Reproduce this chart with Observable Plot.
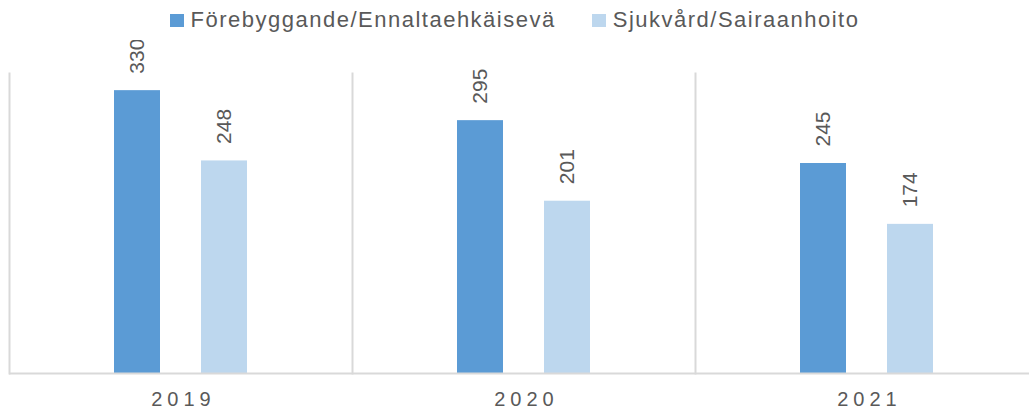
<!DOCTYPE html>
<html>
<head>
<meta charset="utf-8">
<script src="https://cdn.jsdelivr.net/npm/d3@7"></script>
<script src="https://cdn.jsdelivr.net/npm/@observablehq/plot@0.6"></script>
<style>
  body { margin: 0; background: #fff; font-family: "Liberation Sans", Arial, sans-serif; }
  #legend { height: 40px; display: flex; justify-content: center; align-items: center; gap: 36px; color: #595959; }
  #legend .item { display: flex; align-items: center; gap: 7px; }
  #legend .txt { font-size: 22px; letter-spacing: 1.5px; }
  #legend .sw { width: 14px; height: 13px; display: inline-block; }
  svg g[aria-label="fx-axis tick label"] text { letter-spacing: 5px; }
</style>
</head>
<body>
<div id="legend"></div>
<div id="chart"></div>
<script>
const years = ["2019", "2020", "2021"];
const seriesNames = ["Förebyggande/Ennaltaehkäisevä", "Sjukvård/Sairaanhoito"];
const forebyggande = [330, 295, 245];
const sjukvard = [248, 201, 174];
const colors = ["#5b9bd5", "#bdd7ee"];

const data = [];
years.forEach((y, i) => {
  data.push({year: y, series: seriesNames[0], value: forebyggande[i]});
  data.push({year: y, series: seriesNames[1], value: sjukvard[i]});
});

const legend = document.getElementById("legend");
seriesNames.forEach((s, i) => {
  const item = document.createElement("span");
  item.className = "item";
  const sw = document.createElement("span");
  sw.className = "sw";
  sw.style.background = colors[i];
  const t = document.createElement("span");
  t.className = "txt";
  t.textContent = s;
  item.appendChild(sw);
  item.appendChild(t);
  legend.appendChild(item);
});

const chart = Plot.plot({
  width: 1029,
  height: 372,
  marginLeft: 9,
  marginRight: -9,
  marginTop: 33,
  marginBottom: 39,
  style: {fontFamily: '"Liberation Sans", Arial, sans-serif', background: "#fff"},
  fx: {domain: years, padding: 0, label: null, axis: null},
  x: {domain: seriesNames, paddingInner: 0.477, paddingOuter: 1.1875, axis: null},
  y: {domain: [0, 350], axis: null},
  color: {domain: seriesNames, range: colors},
  marks: [
    Plot.frame({anchor: "left", stroke: "#d9d9d9", strokeWidth: 2}),
    Plot.barY(data, {fx: "year", x: "series", y: "value", fill: "series"}),
    Plot.ruleY([0], {stroke: "#d9d9d9", strokeWidth: 2}),
    Plot.text(data, {fx: "year", x: "series", y: "value", text: d => String(d.value), rotate: -90, textAnchor: "start", dy: -17, fontSize: 21, fill: "#595959"}),
    Plot.axisFx({anchor: "bottom", tickSize: 0, tickPadding: 18, fontSize: 20, fill: "#595959", label: null, dx: 2.5})
  ]
});
document.getElementById("chart").appendChild(chart);
</script>
</body>
</html>
